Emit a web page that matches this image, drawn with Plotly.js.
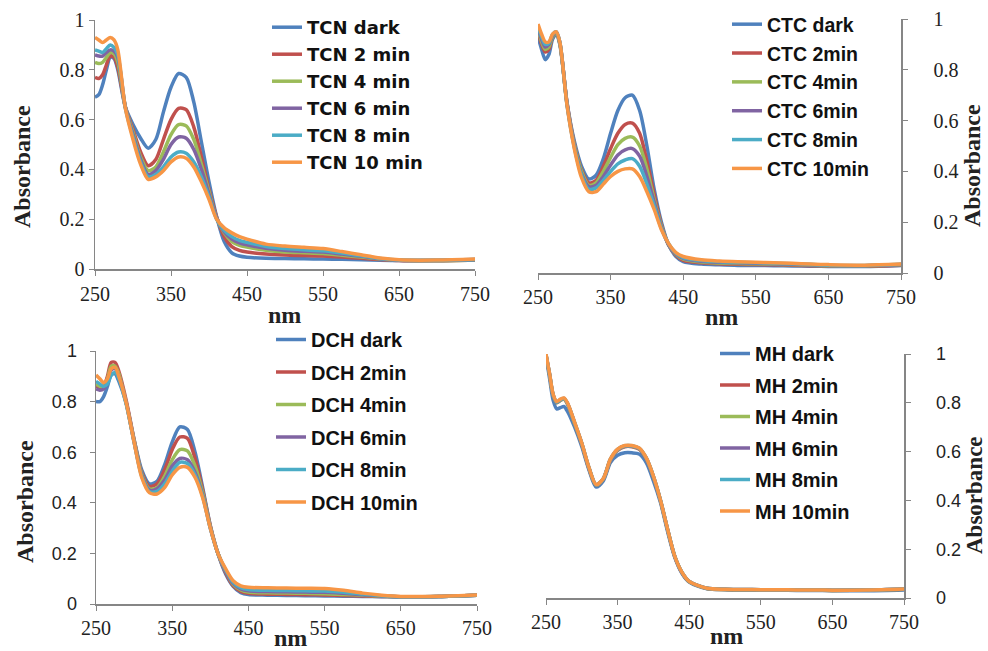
<!DOCTYPE html>
<html><head><meta charset="utf-8">
<script src="https://cdn.plot.ly/plotly-3.0.1.min.js"></script>
<style>html,body{margin:0;padding:0;background:#fff}#chart{width:988px;height:651px}</style>
</head><body><div id="chart"></div>
<script>
// wavelengths (nm)
const wavelength = [250,255,260,265,270,275,280,290,300,310,320,330,340,350,360,370,380,390,400,410,420,430,440,450,475,500,525,550,575,600,625,650,700,750];

const seriesColors = ['#4F81BD','#C0504D','#9BBB59','#8064A2','#4BACC6','#F79646'];
const xTicks = [250,350,450,550,650,750];

// TCN
const TCN_labels = ['TCN dark','TCN 2 min','TCN 4 min','TCN 6 min','TCN 8 min','TCN 10 min'];
const TCN_dark = [0.69,0.70,0.74,0.80,0.85,0.845,0.80,0.65,0.58,0.525,0.485,0.52,0.63,0.73,0.785,0.77,0.67,0.51,0.35,0.21,0.11,0.065,0.052,0.047,0.043,0.042,0.041,0.040,0.039,0.037,0.035,0.034,0.035,0.038];
const TCN_2 = [0.77,0.765,0.78,0.82,0.855,0.85,0.81,0.65,0.56,0.47,0.415,0.44,0.52,0.60,0.645,0.64,0.57,0.45,0.32,0.21,0.13,0.09,0.075,0.068,0.060,0.056,0.054,0.052,0.048,0.043,0.038,0.034,0.033,0.036];
const TCN_4 = [0.83,0.825,0.83,0.85,0.87,0.865,0.83,0.65,0.55,0.45,0.395,0.41,0.47,0.54,0.58,0.575,0.52,0.42,0.31,0.205,0.145,0.11,0.095,0.088,0.075,0.068,0.065,0.062,0.055,0.048,0.040,0.035,0.033,0.036];
const TCN_6 = [0.86,0.855,0.855,0.87,0.88,0.875,0.85,0.65,0.54,0.44,0.38,0.395,0.44,0.50,0.53,0.525,0.48,0.40,0.30,0.205,0.15,0.12,0.105,0.097,0.083,0.075,0.071,0.068,0.060,0.051,0.041,0.035,0.034,0.037];
const TCN_8 = [0.88,0.875,0.87,0.885,0.90,0.89,0.86,0.645,0.53,0.43,0.37,0.38,0.41,0.45,0.47,0.465,0.43,0.37,0.29,0.20,0.155,0.13,0.115,0.107,0.090,0.082,0.077,0.073,0.064,0.053,0.042,0.036,0.035,0.038];
const TCN_10 = [0.93,0.92,0.91,0.92,0.93,0.92,0.88,0.645,0.52,0.42,0.36,0.37,0.395,0.43,0.45,0.445,0.41,0.35,0.28,0.20,0.165,0.145,0.13,0.12,0.10,0.092,0.087,0.082,0.070,0.057,0.044,0.037,0.036,0.040];

// CTC
const CTC_labels = ['CTC dark','CTC 2min','CTC 4min','CTC 6min','CTC 8min','CTC 10min'];
const CTC_dark = [0.93,0.88,0.84,0.86,0.92,0.94,0.90,0.67,0.52,0.42,0.37,0.385,0.45,0.55,0.64,0.69,0.70,0.64,0.50,0.33,0.20,0.11,0.065,0.045,0.035,0.032,0.030,0.030,0.029,0.028,0.027,0.026,0.026,0.030];
const CTC_2 = [0.95,0.90,0.87,0.88,0.93,0.945,0.905,0.67,0.51,0.405,0.355,0.365,0.42,0.49,0.55,0.585,0.59,0.55,0.44,0.31,0.19,0.11,0.07,0.05,0.04,0.036,0.034,0.033,0.032,0.031,0.029,0.028,0.027,0.031];
const CTC_4 = [0.96,0.91,0.88,0.89,0.93,0.945,0.905,0.665,0.505,0.40,0.345,0.355,0.40,0.455,0.505,0.53,0.535,0.50,0.41,0.29,0.185,0.11,0.073,0.055,0.043,0.039,0.037,0.036,0.034,0.033,0.031,0.029,0.028,0.032];
const CTC_6 = [0.965,0.92,0.89,0.90,0.935,0.95,0.91,0.665,0.50,0.39,0.34,0.345,0.38,0.425,0.465,0.485,0.49,0.46,0.38,0.28,0.18,0.11,0.075,0.058,0.046,0.042,0.040,0.038,0.036,0.035,0.032,0.030,0.029,0.033];
const CTC_8 = [0.97,0.93,0.90,0.905,0.94,0.95,0.91,0.66,0.495,0.385,0.33,0.335,0.365,0.40,0.43,0.445,0.45,0.42,0.35,0.265,0.175,0.115,0.078,0.061,0.049,0.044,0.042,0.040,0.038,0.036,0.034,0.031,0.030,0.034];
const CTC_10 = [0.98,0.94,0.91,0.91,0.94,0.95,0.91,0.66,0.49,0.375,0.32,0.32,0.35,0.38,0.40,0.41,0.41,0.38,0.32,0.25,0.17,0.115,0.08,0.065,0.052,0.047,0.044,0.042,0.040,0.038,0.035,0.033,0.031,0.035];

// DCH
const DCH_labels = ['DCH dark','DCH 2min','DCH 4min','DCH 6min','DCH 8min','DCH 10min'];
const DCH_dark = [0.80,0.80,0.82,0.86,0.905,0.91,0.88,0.79,0.65,0.53,0.475,0.485,0.55,0.64,0.70,0.69,0.60,0.46,0.31,0.20,0.12,0.07,0.045,0.037,0.035,0.034,0.033,0.032,0.031,0.030,0.029,0.028,0.030,0.035];
const DCH_2 = [0.86,0.855,0.86,0.90,0.955,0.955,0.92,0.80,0.65,0.52,0.465,0.475,0.53,0.61,0.66,0.655,0.575,0.45,0.31,0.20,0.125,0.073,0.05,0.042,0.039,0.038,0.037,0.036,0.034,0.032,0.030,0.029,0.030,0.035];
const DCH_4 = [0.87,0.86,0.86,0.89,0.94,0.94,0.91,0.79,0.645,0.515,0.455,0.46,0.505,0.57,0.61,0.605,0.545,0.44,0.305,0.20,0.13,0.078,0.056,0.047,0.044,0.043,0.042,0.041,0.038,0.035,0.031,0.029,0.030,0.035];
const DCH_6 = [0.85,0.845,0.85,0.88,0.925,0.93,0.90,0.79,0.64,0.51,0.45,0.455,0.49,0.545,0.575,0.57,0.52,0.43,0.30,0.20,0.13,0.082,0.06,0.052,0.049,0.048,0.047,0.046,0.042,0.037,0.032,0.029,0.030,0.035];
const DCH_8 = [0.88,0.87,0.86,0.87,0.905,0.915,0.89,0.785,0.64,0.505,0.445,0.445,0.475,0.525,0.56,0.555,0.51,0.425,0.30,0.20,0.135,0.086,0.065,0.057,0.054,0.053,0.052,0.051,0.046,0.039,0.033,0.029,0.030,0.035];
const DCH_10 = [0.905,0.89,0.875,0.89,0.93,0.935,0.90,0.79,0.64,0.50,0.44,0.435,0.46,0.51,0.54,0.54,0.50,0.42,0.30,0.20,0.14,0.092,0.072,0.066,0.064,0.063,0.062,0.061,0.054,0.043,0.035,0.030,0.031,0.036];

// MH
const MH_labels = ['MH dark','MH 2min','MH 4min','MH 6min','MH 8min','MH 10min'];
const MH_dark = [0.99,0.90,0.81,0.775,0.78,0.785,0.765,0.70,0.62,0.525,0.455,0.48,0.555,0.585,0.595,0.595,0.59,0.555,0.48,0.39,0.27,0.165,0.10,0.065,0.038,0.034,0.033,0.032,0.032,0.031,0.031,0.030,0.030,0.033];
const MH_2 = [0.995,0.915,0.83,0.80,0.81,0.815,0.795,0.715,0.63,0.53,0.462,0.487,0.565,0.605,0.62,0.62,0.61,0.57,0.495,0.397,0.277,0.168,0.103,0.067,0.039,0.035,0.034,0.033,0.033,0.032,0.032,0.031,0.032,0.036];
const MH_4 = [0.995,0.915,0.83,0.80,0.81,0.815,0.795,0.715,0.632,0.532,0.463,0.488,0.567,0.607,0.622,0.622,0.612,0.572,0.497,0.398,0.278,0.169,0.104,0.067,0.039,0.035,0.034,0.033,0.033,0.032,0.032,0.031,0.032,0.036];
const MH_6 = [0.998,0.918,0.832,0.802,0.812,0.818,0.798,0.718,0.633,0.533,0.464,0.489,0.568,0.608,0.623,0.623,0.613,0.573,0.498,0.399,0.279,0.169,0.104,0.068,0.040,0.036,0.035,0.034,0.034,0.033,0.033,0.032,0.033,0.037];
const MH_8 = [0.998,0.918,0.833,0.803,0.813,0.818,0.798,0.718,0.634,0.534,0.464,0.489,0.569,0.609,0.624,0.624,0.614,0.574,0.499,0.400,0.279,0.170,0.105,0.068,0.040,0.036,0.035,0.034,0.034,0.033,0.033,0.032,0.033,0.037];
const MH_10 = [1.0,0.92,0.835,0.805,0.815,0.82,0.80,0.72,0.635,0.535,0.465,0.49,0.57,0.61,0.625,0.625,0.615,0.575,0.50,0.40,0.28,0.17,0.105,0.068,0.040,0.036,0.035,0.034,0.034,0.033,0.033,0.032,0.033,0.037];

const W = 988, H = 651;
const fx = p => p / W;
const fy = p => 1 - p / H;

const panels = [
  {labels: TCN_labels, data: [TCN_dark,TCN_2,TCN_4,TCN_6,TCN_8,TCN_10], xa:'x', ya:'y', lg:'legend'},
  {labels: CTC_labels, data: [CTC_dark,CTC_2,CTC_4,CTC_6,CTC_8,CTC_10], xa:'x2', ya:'y2', lg:'legend2'},
  {labels: DCH_labels, data: [DCH_dark,DCH_2,DCH_4,DCH_6,DCH_8,DCH_10], xa:'x3', ya:'y3', lg:'legend3'},
  {labels: MH_labels, data: [MH_dark,MH_2,MH_4,MH_6,MH_8,MH_10], xa:'x4', ya:'y4', lg:'legend4'}
];

const traces = [];
panels.forEach((p, pi) => {
  p.data.forEach((vals, i) => {
    traces.push({
      type:'scatter', mode:'lines', x: wavelength, y: vals, name: p.labels[i],
      xaxis: p.xa, yaxis: p.ya, legend: p.lg, legendgroup: 'g'+pi+'_'+i,
      line: {color: seriesColors[i], width: 3.5, shape: 'spline', smoothing: 0.8},
      hoverinfo: 'skip'
    });
  });
});

const serif = '"Liberation Serif", "Times New Roman", Times, serif';
const sans = '"Liberation Sans", Arial, sans-serif';
const wideSans = '"DejaVu Sans", "Liberation Sans", sans-serif';
const axisCol = '#868686';

function xax(d0, d1, anchor, standoff) {
  return {domain:[fx(d0), fx(d1)], anchor: anchor, range:[250,750], tickvals: xTicks,
    showline:true, linecolor:axisCol, linewidth:1.5, ticks:'outside', ticklen:5, tickcolor:axisCol,
    showgrid:false, zeroline:false, ticklabelstandoff: standoff,
    tickfont:{family:serif, size:20, color:'#222'}};
}
function yax(t, b, anchor, side, fam, size, standoff) {
  return {domain:[fy(b), fy(t)], anchor: anchor, side: side, range:[0,1], dtick:0.2, tick0:0,
    showline:true, linecolor:axisCol, linewidth:1.5, ticks:'outside', ticklen:5, tickcolor:axisCol,
    showgrid:false, zeroline:false, ticklabelstandoff: standoff,
    tickfont:{family:fam, size:size, color:'#222'}};
}

function leg(px, py, fam, size, gap) {
  return {x: fx(px), y: fy(py), xanchor:'left', yanchor:'top', bgcolor:'rgba(0,0,0,0)',
    borderwidth:0, tracegroupgap: gap, traceorder:'grouped',
    font:{family:fam, size:size, color:'#111', weight:'bold'}};
}

const titleFont = {family:serif, size:24, color:'#222', weight:'bold'};
function ann(text, px, py, angle, size) {
  return {text: text, x: fx(px), y: fy(py), xref:'paper', yref:'paper', showarrow:false,
    xanchor:'center', yanchor:'middle', textangle: angle,
    font: Object.assign({}, titleFont, size ? {size: size} : {})};
}

const layout = {
  width: W, height: H, margin:{l:0,r:0,t:0,b:0}, paper_bgcolor:'#fff', plot_bgcolor:'rgba(0,0,0,0)',
  showlegend: true,
  xaxis: xax(95, 475, 'y', 1),
  yaxis: yax(20, 269, 'x', 'left', serif, 20, 0),
  xaxis2: xax(538, 901, 'y2', 0),
  yaxis2: yax(19, 273, 'x2', 'right', serif, 20, 22),
  xaxis3: xax(96, 477, 'y3', 0),
  yaxis3: yax(351, 604, 'x3', 'left', sans, 18, 9),
  xaxis4: xax(546, 904, 'y4', 0),
  yaxis4: yax(354, 598, 'x4', 'right', sans, 18, 22),
  legend: leg(267, 9, wideSans, 18, 0.6),
  legend2: leg(727, 5, sans, 19.5, 0.5),
  legend3: leg(271, 320, sans, 20, 3.5),
  legend4: leg(715, 334, sans, 20, 2.5),
  annotations: [
    ann('Absorbance', 22, 167, -90), ann('nm', 284, 315, 0),
    ann('Absorbance', 972, 166, -90), ann('nm', 721, 317, 0),
    ann('Absorbance', 25, 502, -90), ann('nm', 290, 638, 0),
    ann('Absorbance', 974, 495, -90, 23), ann('nm', 726, 636, 0)
  ]
};

Plotly.newPlot('chart', traces, layout, {staticPlot:true, displayModeBar:false});
</script></body></html>
